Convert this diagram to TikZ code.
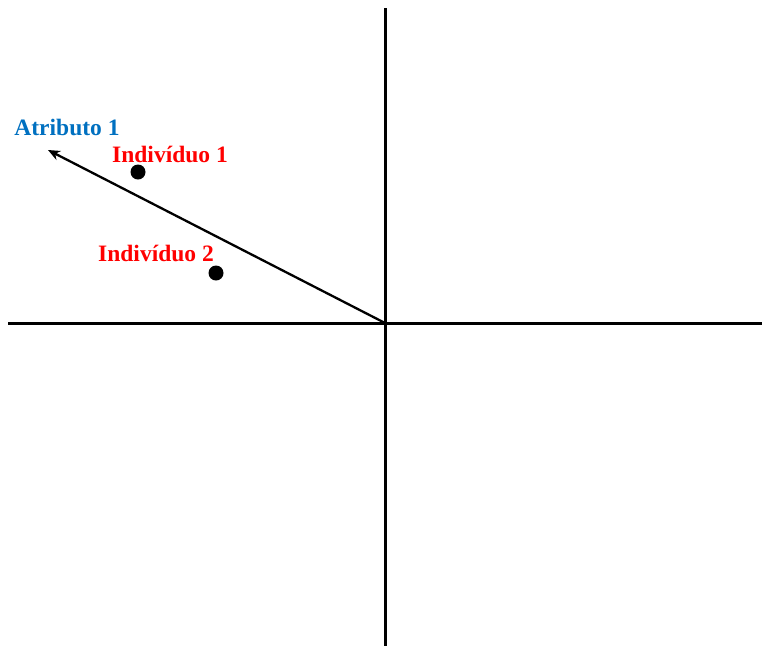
\documentclass[tikz,border=0pt]{standalone}
\usepackage{fontspec}
\setmainfont{Liberation Serif}
\usepackage{xcolor}
\usepackage{tikz}
\usetikzlibrary{arrows.meta,positioning}

\definecolor{attrblue}{HTML}{0070C0}
\definecolor{indred}{HTML}{FF0000}

\begin{document}
\begin{tikzpicture}[
      x=1pt, y=-1pt,
      axis/.style={line width=3pt},
      arrow/.style={-{Stealth[length=12pt,width=10pt]}, line width=2.3pt},
      dot/.style={circle, fill=black, inner sep=0pt, minimum size=15pt},
      attr/.style={text=attrblue, font=\fontsize{23.5}{27}\selectfont\bfseries},
      indiv/.style={text=indred, font=\fontsize{23.5}{27}\selectfont\bfseries}
]
      \useasboundingbox (0,0) rectangle (762,646);

      \coordinate (origin) at (385,323);
      \coordinate (left) at (8,323);
      \coordinate (right) at (762,323);
      \coordinate (top) at (385,8);
      \coordinate (bottom) at (385,646);
      \coordinate (attrtip) at (48,150);

      \node[dot] (ind1) at (138,172) {};
      \node[dot] (ind2) at (216,273) {};

      \node[attr] (attrlabel) at (67,127) {Atributo 1};
      \node[indiv] (ind1label) at (170,154) {Indivíduo 1};
      \node[indiv] (ind2label) at (156,253) {Indivíduo 2};

      \draw[axis] (left) -- (right);
      \draw[axis] (top) -- (bottom);
      \draw[arrow] (origin) -- (attrtip);
\end{tikzpicture}
\end{document}
